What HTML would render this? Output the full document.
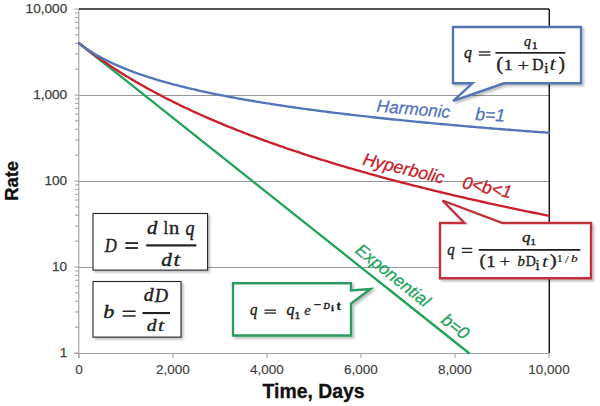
<!DOCTYPE html>
<html><head><meta charset="utf-8"><style>
html,body{margin:0;padding:0;background:#fff;overflow:hidden;}
svg{display:block;}
.sans{font-family:"Liberation Sans",sans-serif;}
</style></head><body>
<svg width="600" height="406" viewBox="0 0 600 406">
<defs>
<filter id="sh" x="-10%" y="-10%" width="130%" height="140%">
<feGaussianBlur in="SourceAlpha" stdDeviation="1.2"/>
<feOffset dx="1.5" dy="1.5" result="o"/>
<feComponentTransfer><feFuncA type="linear" slope="0.25"/></feComponentTransfer>
<feMerge><feMergeNode/><feMergeNode in="SourceGraphic"/></feMerge>
</filter>
</defs>
<rect width="600" height="406" fill="#fff"/>
<g stroke="#969696" stroke-width="1" shape-rendering="crispEdges"><line x1="79" y1="267.00" x2="549" y2="267.00"/>
<line x1="79" y1="181.00" x2="549" y2="181.00"/>
<line x1="79" y1="95.00" x2="549" y2="95.00"/></g>
<g stroke="#a0a0a0" stroke-width="1"><line x1="74.5" y1="353.00" x2="79" y2="353.00"/>
<line x1="75" y1="327.11" x2="79" y2="327.11"/>
<line x1="75" y1="311.97" x2="79" y2="311.97"/>
<line x1="75" y1="301.22" x2="79" y2="301.22"/>
<line x1="75" y1="292.89" x2="79" y2="292.89"/>
<line x1="75" y1="286.08" x2="79" y2="286.08"/>
<line x1="75" y1="280.32" x2="79" y2="280.32"/>
<line x1="75" y1="275.33" x2="79" y2="275.33"/>
<line x1="75" y1="270.94" x2="79" y2="270.94"/>
<line x1="74.5" y1="267.00" x2="79" y2="267.00"/>
<line x1="75" y1="241.11" x2="79" y2="241.11"/>
<line x1="75" y1="225.97" x2="79" y2="225.97"/>
<line x1="75" y1="215.22" x2="79" y2="215.22"/>
<line x1="75" y1="206.89" x2="79" y2="206.89"/>
<line x1="75" y1="200.08" x2="79" y2="200.08"/>
<line x1="75" y1="194.32" x2="79" y2="194.32"/>
<line x1="75" y1="189.33" x2="79" y2="189.33"/>
<line x1="75" y1="184.94" x2="79" y2="184.94"/>
<line x1="74.5" y1="181.00" x2="79" y2="181.00"/>
<line x1="75" y1="155.11" x2="79" y2="155.11"/>
<line x1="75" y1="139.97" x2="79" y2="139.97"/>
<line x1="75" y1="129.22" x2="79" y2="129.22"/>
<line x1="75" y1="120.89" x2="79" y2="120.89"/>
<line x1="75" y1="114.08" x2="79" y2="114.08"/>
<line x1="75" y1="108.32" x2="79" y2="108.32"/>
<line x1="75" y1="103.33" x2="79" y2="103.33"/>
<line x1="75" y1="98.94" x2="79" y2="98.94"/>
<line x1="74.5" y1="95.00" x2="79" y2="95.00"/>
<line x1="75" y1="69.11" x2="79" y2="69.11"/>
<line x1="75" y1="53.97" x2="79" y2="53.97"/>
<line x1="75" y1="43.22" x2="79" y2="43.22"/>
<line x1="75" y1="34.89" x2="79" y2="34.89"/>
<line x1="75" y1="28.08" x2="79" y2="28.08"/>
<line x1="75" y1="22.32" x2="79" y2="22.32"/>
<line x1="75" y1="17.33" x2="79" y2="17.33"/>
<line x1="75" y1="12.94" x2="79" y2="12.94"/>
<line x1="74.5" y1="9.00" x2="79" y2="9.00"/>
<line x1="79.00" y1="353" x2="79.00" y2="358"/>
<line x1="173.00" y1="353" x2="173.00" y2="358"/>
<line x1="267.00" y1="353" x2="267.00" y2="358"/>
<line x1="361.00" y1="353" x2="361.00" y2="358"/>
<line x1="455.00" y1="353" x2="455.00" y2="358"/>
<line x1="549.00" y1="353" x2="549.00" y2="358"/></g>
<line x1="78.8" y1="9" x2="78.8" y2="358" stroke="#a0a0a0" stroke-width="1.1"/>
<line x1="74" y1="353.5" x2="549" y2="353.5" stroke="#a0a0a0" stroke-width="1.1"/>
<line x1="79" y1="9" x2="549" y2="9" stroke="#1a1a1a" stroke-width="1.6"/>
<line x1="549.3" y1="9" x2="549.3" y2="353" stroke="#1a1a1a" stroke-width="1.5"/>
<g fill="none" stroke-width="2.35" stroke-linejoin="round" stroke-linecap="round">
<polyline points="79.00,43.22 98.49,58.71 117.98,74.20 137.47,89.69 156.96,105.18 176.46,120.67 195.95,136.16 215.44,151.64 234.93,167.13 254.42,182.62 273.91,198.11 293.40,213.60 312.89,229.09 332.38,244.58 351.87,260.07 371.37,275.56 390.86,291.04 410.35,306.53 429.84,322.02 449.33,337.51 468.82,353.00" stroke="#22a35a"/>
<polyline points="79.00,43.22 81.35,45.08 83.70,46.90 86.05,48.70 88.40,50.48 90.75,52.23 93.10,53.95 95.45,55.65 97.80,57.33 100.15,58.99 102.50,60.62 104.85,62.24 107.20,63.83 109.55,65.40 111.90,66.95 114.25,68.49 116.60,70.00 118.95,71.50 121.30,72.98 123.65,74.44 126.00,75.89 128.35,77.31 130.70,78.73 133.05,80.12 135.40,81.50 137.75,82.87 140.10,84.22 142.45,85.56 144.80,86.88 147.15,88.19 149.50,89.48 151.85,90.76 154.20,92.03 156.55,93.29 158.90,94.53 161.25,95.76 163.60,96.98 165.95,98.19 168.30,99.38 170.65,100.56 173.00,101.74 175.35,102.90 177.70,104.05 180.05,105.19 182.40,106.32 184.75,107.44 187.10,108.55 189.45,109.65 191.80,110.74 194.15,111.82 196.50,112.89 198.85,113.96 201.20,115.01 203.55,116.05 205.90,117.09 208.25,118.12 210.60,119.14 212.95,120.15 215.30,121.15 217.65,122.15 220.00,123.13 222.35,124.11 224.70,125.08 227.05,126.05 229.40,127.00 231.75,127.95 234.10,128.89 236.45,129.83 238.80,130.76 241.15,131.68 243.50,132.59 245.85,133.50 248.20,134.40 250.55,135.30 252.90,136.18 255.25,137.07 257.60,137.94 259.95,138.81 262.30,139.67 264.65,140.53 267.00,141.38 269.35,142.23 271.70,143.07 274.05,143.90 276.40,144.73 278.75,145.56 281.10,146.38 283.45,147.19 285.80,148.00 288.15,148.80 290.50,149.60 292.85,150.39 295.20,151.17 297.55,151.96 299.90,152.73 302.25,153.51 304.60,154.27 306.95,155.04 309.30,155.80 311.65,156.55 314.00,157.30 316.35,158.04 318.70,158.78 321.05,159.52 323.40,160.25 325.75,160.98 328.10,161.70 330.45,162.42 332.80,163.14 335.15,163.85 337.50,164.55 339.85,165.26 342.20,165.95 344.55,166.65 346.90,167.34 349.25,168.03 351.60,168.71 353.95,169.39 356.30,170.07 358.65,170.74 361.00,171.41 363.35,172.07 365.70,172.73 368.05,173.39 370.40,174.05 372.75,174.70 375.10,175.35 377.45,175.99 379.80,176.63 382.15,177.27 384.50,177.91 386.85,178.54 389.20,179.16 391.55,179.79 393.90,180.41 396.25,181.03 398.60,181.65 400.95,182.26 403.30,182.87 405.65,183.48 408.00,184.08 410.35,184.68 412.70,185.28 415.05,185.87 417.40,186.47 419.75,187.06 422.10,187.64 424.45,188.23 426.80,188.81 429.15,189.39 431.50,189.96 433.85,190.54 436.20,191.11 438.55,191.67 440.90,192.24 443.25,192.80 445.60,193.36 447.95,193.92 450.30,194.48 452.65,195.03 455.00,195.58 457.35,196.13 459.70,196.67 462.05,197.22 464.40,197.76 466.75,198.30 469.10,198.83 471.45,199.37 473.80,199.90 476.15,200.43 478.50,200.95 480.85,201.48 483.20,202.00 485.55,202.52 487.90,203.04 490.25,203.56 492.60,204.07 494.95,204.58 497.30,205.09 499.65,205.60 502.00,206.11 504.35,206.61 506.70,207.11 509.05,207.61 511.40,208.11 513.75,208.61 516.10,209.10 518.45,209.59 520.80,210.08 523.15,210.57 525.50,211.05 527.85,211.54 530.20,212.02 532.55,212.50 534.90,212.98 537.25,213.46 539.60,213.93 541.95,214.40 544.30,214.88 546.65,215.35 549.00,215.81" stroke="#c8212c"/>
<polyline points="79.00,43.22 81.35,45.05 83.70,46.78 86.05,48.44 88.40,50.03 90.75,51.56 93.10,53.02 95.45,54.43 97.80,55.79 100.15,57.10 102.50,58.37 104.85,59.59 107.20,60.78 109.55,61.93 111.90,63.04 114.25,64.12 116.60,65.18 118.95,66.20 121.30,67.20 123.65,68.17 126.00,69.11 128.35,70.03 130.70,70.93 133.05,71.81 135.40,72.67 137.75,73.51 140.10,74.33 142.45,75.13 144.80,75.92 147.15,76.69 149.50,77.45 151.85,78.19 154.20,78.91 156.55,79.62 158.90,80.32 161.25,81.01 163.60,81.68 165.95,82.34 168.30,82.99 170.65,83.63 173.00,84.26 175.35,84.87 177.70,85.48 180.05,86.08 182.40,86.67 184.75,87.24 187.10,87.82 189.45,88.38 191.80,88.93 194.15,89.48 196.50,90.01 198.85,90.54 201.20,91.06 203.55,91.58 205.90,92.09 208.25,92.59 210.60,93.08 212.95,93.57 215.30,94.05 217.65,94.53 220.00,95.00 222.35,95.46 224.70,95.92 227.05,96.37 229.40,96.82 231.75,97.26 234.10,97.70 236.45,98.13 238.80,98.56 241.15,98.98 243.50,99.40 245.85,99.81 248.20,100.22 250.55,100.62 252.90,101.02 255.25,101.42 257.60,101.81 259.95,102.20 262.30,102.58 264.65,102.96 267.00,103.33 269.35,103.71 271.70,104.07 274.05,104.44 276.40,104.80 278.75,105.16 281.10,105.51 283.45,105.86 285.80,106.21 288.15,106.55 290.50,106.89 292.85,107.23 295.20,107.57 297.55,107.90 299.90,108.23 302.25,108.55 304.60,108.88 306.95,109.20 309.30,109.52 311.65,109.83 314.00,110.14 316.35,110.45 318.70,110.76 321.05,111.07 323.40,111.37 325.75,111.67 328.10,111.97 330.45,112.26 332.80,112.55 335.15,112.84 337.50,113.13 339.85,113.42 342.20,113.70 344.55,113.99 346.90,114.27 349.25,114.54 351.60,114.82 353.95,115.09 356.30,115.36 358.65,115.63 361.00,115.90 363.35,116.17 365.70,116.43 368.05,116.69 370.40,116.95 372.75,117.21 375.10,117.47 377.45,117.72 379.80,117.98 382.15,118.23 384.50,118.48 386.85,118.73 389.20,118.97 391.55,119.22 393.90,119.46 396.25,119.70 398.60,119.94 400.95,120.18 403.30,120.42 405.65,120.65 408.00,120.89 410.35,121.12 412.70,121.35 415.05,121.58 417.40,121.81 419.75,122.04 422.10,122.26 424.45,122.49 426.80,122.71 429.15,122.93 431.50,123.15 433.85,123.37 436.20,123.59 438.55,123.81 440.90,124.02 443.25,124.24 445.60,124.45 447.95,124.66 450.30,124.87 452.65,125.08 455.00,125.29 457.35,125.49 459.70,125.70 462.05,125.91 464.40,126.11 466.75,126.31 469.10,126.51 471.45,126.71 473.80,126.91 476.15,127.11 478.50,127.31 480.85,127.50 483.20,127.70 485.55,127.89 487.90,128.09 490.25,128.28 492.60,128.47 494.95,128.66 497.30,128.85 499.65,129.04 502.00,129.22 504.35,129.41 506.70,129.59 509.05,129.78 511.40,129.96 513.75,130.15 516.10,130.33 518.45,130.51 520.80,130.69 523.15,130.87 525.50,131.05 527.85,131.22 530.20,131.40 532.55,131.57 534.90,131.75 537.25,131.92 539.60,132.10 541.95,132.27 544.30,132.44 546.65,132.61 549.00,132.78" stroke="#5375b8"/>
</g>
<g class="sans" font-size="13.6" fill="#404040" stroke="#404040" stroke-width="0.25" text-anchor="end"><text x="67.2" y="13.40">10,000</text>
<text x="67.2" y="99.40">1,000</text>
<text x="67.2" y="185.40">100</text>
<text x="67.2" y="271.40">10</text>
<text x="67.2" y="357.40">1</text></g>
<g class="sans" font-size="13.5" fill="#404040" stroke="#404040" stroke-width="0.15" text-anchor="middle"><text x="79.00" y="374">0</text>
<text x="173.00" y="374">2,000</text>
<text x="267.00" y="374">4,000</text>
<text x="361.00" y="374">6,000</text>
<text x="455.00" y="374">8,000</text>
<text x="549.00" y="374">10,000</text></g>
<text class="sans" font-size="19.4" font-weight="bold" fill="#111" stroke="#111" stroke-width="0.3" x="313.6" y="398.3" text-anchor="middle">Time, Days</text>
<text class="sans" font-size="18.4" font-weight="bold" fill="#111" stroke="#111" stroke-width="0.3" transform="translate(18.3,180.9) rotate(-90)" text-anchor="middle">Rate</text>

<g class="sans" font-style="italic" font-size="17.6" stroke-width="0.3">
<text fill="#5375b8" stroke="#5375b8" font-size="17.2" transform="translate(376.3,111.6) rotate(5)">Harmonic</text>
<text fill="#5375b8" stroke="#5375b8" transform="translate(475,120) rotate(3)">b=1</text>
<text fill="#c8212c" stroke="#c8212c" transform="translate(362,164.5) rotate(13.5)">Hyperbolic</text>
<text fill="#c8212c" stroke="#c8212c" transform="translate(461.5,188) rotate(12)">0&lt;b&lt;1</text>
<text fill="#22a35a" stroke="#22a35a" font-size="17.2" transform="translate(354.2,251.9) rotate(38.5)">Exponential</text>
<text fill="#22a35a" stroke="#22a35a" transform="translate(440,322) rotate(38)">b=0</text>
</g>

<g filter="url(#sh)">
<rect x="93" y="213.5" width="114.6" height="56.6" fill="#fff" stroke="#222" stroke-width="1.1"/>
<rect x="93" y="281.5" width="88" height="55.6" fill="#fff" stroke="#222" stroke-width="1.1"/>
</g>

<g filter="url(#sh)" fill="#fff" stroke-width="2.4" stroke-linejoin="miter">
<path d="M453,27 H581 V83.3 H504 L453.2,100.8 L472.5,83.3 H453 Z" stroke="#5474b2"/>
<path d="M440,223 H464.5 L442.5,200.5 L502.5,223 H591 V278.2 H440 Z" stroke="#c0333a"/>
<path d="M233,283.2 H351 V290.5 L370.5,289 L351,303.5 V335.5 H233 Z" stroke="#2a9c5e"/>
</g>
<g>
<text transform="translate(463.93,57.59) scale(0.78943,0.78938)" font-family="Liberation Serif" font-style="italic" font-weight="normal" font-size="20" fill="#222" stroke="#222" stroke-width="0.5099">q</text>
<rect x="478.90" y="51.30" width="11.50" height="1.30" fill="#222"/><rect x="478.90" y="54.40" width="11.50" height="1.30" fill="#222"/>
<rect x="495.50" y="52.00" width="70.00" height="1.70" fill="#222"/>
<text transform="translate(523.89,45.63) scale(0.69921,0.70898)" font-family="Liberation Serif" font-style="italic" font-weight="normal" font-size="20" fill="#222" stroke="#222" stroke-width="0.5134">q</text>
<text transform="translate(531.75,48.65) scale(0.60592,0.48473)" font-family="Liberation Serif" font-style="normal" font-weight="normal" font-size="20" fill="#222" stroke="#222" stroke-width="0.6602">1</text>
<text transform="translate(496.41,70.32) scale(0.95392,0.89883)" font-family="Liberation Serif" font-style="normal" font-weight="normal" font-size="20" fill="#222" stroke="#222" stroke-width="0.5766">(</text>
<text transform="translate(503.68,69.65) scale(0.89476,0.78012)" font-family="Liberation Serif" font-style="normal" font-weight="normal" font-size="20" fill="#222" stroke="#222" stroke-width="0.4303">1</text>
<text transform="translate(517.42,71.11) scale(1.03152,0.83723)" font-family="Liberation Serif" font-style="normal" font-weight="normal" font-size="20" fill="#222" stroke="#222" stroke-width="0.2884">+</text>
<text transform="translate(532.30,69.62) scale(0.78063,0.78418)" font-family="Liberation Serif" font-style="normal" font-weight="normal" font-size="20" fill="#222" stroke="#222" stroke-width="0.4910">D</text>
<text transform="translate(544.13,72.85) scale(0.75696,0.71740)" font-family="Liberation Serif" font-style="normal" font-weight="normal" font-size="20" fill="#222" stroke="#222" stroke-width="0.5284">i</text>
<text transform="translate(549.57,69.77) scale(1.13487,0.90789)" font-family="Liberation Serif" font-style="italic" font-weight="normal" font-size="20" fill="#222" stroke="#222" stroke-width="0.1322">t</text>
<text transform="translate(558.66,70.32) scale(0.91498,0.89883)" font-family="Liberation Serif" font-style="normal" font-weight="normal" font-size="20" fill="#222" stroke="#222" stroke-width="0.6011">)</text>
<text transform="translate(447.26,254.87) scale(0.74432,0.84054)" font-family="Liberation Serif" font-style="italic" font-weight="normal" font-size="20" fill="#222" stroke="#222" stroke-width="0.5080">q</text>
<rect x="461.80" y="247.80" width="10.50" height="1.30" fill="#222"/><rect x="461.80" y="251.70" width="10.50" height="1.30" fill="#222"/>
<rect x="478.80" y="249.00" width="101.50" height="1.80" fill="#222"/>
<text transform="translate(522.02,242.06) scale(0.84968,0.67974)" font-family="Liberation Serif" font-style="italic" font-weight="normal" font-size="20" fill="#222" stroke="#222" stroke-width="0.5885">q</text>
<text transform="translate(530.25,244.95) scale(0.57751,0.46201)" font-family="Liberation Serif" font-style="normal" font-weight="normal" font-size="20" fill="#222" stroke="#222" stroke-width="0.6926">1</text>
<text transform="translate(479.71,265.96) scale(0.83711,0.86574)" font-family="Liberation Serif" font-style="normal" font-weight="normal" font-size="20" fill="#222" stroke="#222" stroke-width="0.6353">(</text>
<text transform="translate(486.30,266.65) scale(0.93736,0.83314)" font-family="Liberation Serif" font-style="normal" font-weight="normal" font-size="20" fill="#222" stroke="#222" stroke-width="0.4369">1</text>
<text transform="translate(499.84,266.81) scale(0.91333,0.83723)" font-family="Liberation Serif" font-style="normal" font-weight="normal" font-size="20" fill="#222" stroke="#222" stroke-width="0.3257">+</text>
<text transform="translate(517.60,266.21) scale(0.73968,0.71062)" font-family="Liberation Serif" font-style="italic" font-weight="normal" font-size="20" fill="#222" stroke="#222" stroke-width="0.5063">b</text>
<text transform="translate(525.75,266.32) scale(0.69644,0.70804)" font-family="Liberation Serif" font-style="normal" font-weight="normal" font-size="20" fill="#222" stroke="#222" stroke-width="0.4943">D</text>
<text transform="translate(535.54,269.65) scale(0.73593,0.74006)" font-family="Liberation Serif" font-style="normal" font-weight="normal" font-size="20" fill="#222" stroke="#222" stroke-width="0.5405">i</text>
<text transform="translate(542.01,266.78) scale(1.08031,0.86425)" font-family="Liberation Serif" font-style="italic" font-weight="normal" font-size="20" fill="#222" stroke="#222" stroke-width="0.1388">t</text>
<text transform="translate(550.11,266.22) scale(0.99285,0.80508)" font-family="Liberation Serif" font-style="normal" font-weight="normal" font-size="20" fill="#222" stroke="#222" stroke-width="0.5394">)</text>
<text transform="translate(557.08,262.35) scale(0.55390,0.46959)" font-family="Liberation Serif" font-style="normal" font-weight="normal" font-size="20" fill="#222" stroke="#222" stroke-width="0.4513">1</text>
<text transform="translate(564.91,262.54) scale(0.68204,0.54564)" font-family="Liberation Serif" font-style="normal" font-weight="normal" font-size="20" fill="#222" stroke="#222" stroke-width="0.2199">/</text>
<text transform="translate(571.02,262.25) scale(0.66620,0.53296)" font-family="Liberation Serif" font-style="italic" font-weight="normal" font-size="20" fill="#222" stroke="#222" stroke-width="0.3753">b</text>
<text transform="translate(249.96,314.98) scale(0.74432,0.86247)" font-family="Liberation Serif" font-style="italic" font-weight="normal" font-size="20" fill="#222" stroke="#222" stroke-width="0.5073">q</text>
<rect x="264.50" y="309.50" width="11.50" height="1.30" fill="#222"/><rect x="264.50" y="312.40" width="11.50" height="1.30" fill="#222"/>
<text transform="translate(286.42,314.98) scale(0.80070,0.86247)" font-family="Liberation Serif" font-style="italic" font-weight="normal" font-size="20" fill="#222" stroke="#222" stroke-width="0.5073">q</text>
<text transform="translate(294.43,318.65) scale(0.58230,0.51503)" font-family="Liberation Serif" font-style="normal" font-weight="normal" font-size="20" fill="#222" stroke="#222" stroke-width="0.8587">1</text>
<text transform="translate(304.20,314.91) scale(0.72960,0.70692)" font-family="Liberation Serif" font-style="italic" font-weight="normal" font-size="20" fill="#222" stroke="#222" stroke-width="0.3598">e</text>
<rect x="314.20" y="304.00" width="6.60" height="1.20" fill="#222"/>
<text transform="translate(323.45,309.23) scale(0.43160,0.45680)" font-family="Liberation Serif" font-style="italic" font-weight="normal" font-size="20" fill="#222" stroke="#222" stroke-width="1.0946">D</text>
<text transform="translate(331.02,311.35) scale(0.51822,0.43237)" font-family="Liberation Serif" font-style="normal" font-weight="bold" font-size="20" fill="#222" stroke="#222" stroke-width="0.5789">i</text>
<text transform="translate(336.49,309.53) scale(0.65600,0.59362)" font-family="Liberation Serif" font-style="normal" font-weight="bold" font-size="20" fill="#222" stroke="#222" stroke-width="0.4573">t</text>
<text transform="translate(104.64,251.61) scale(0.83535,0.98974)" font-family="Liberation Serif" font-style="italic" font-weight="normal" font-size="20" fill="#222" stroke="#222" stroke-width="0.4845">D</text>
<rect x="125.30" y="242.20" width="12.70" height="1.80" fill="#222"/><rect x="125.30" y="247.10" width="12.70" height="1.80" fill="#222"/>
<text transform="translate(147.12,234.06) scale(1.03777,0.91606)" font-family="Liberation Serif" font-style="italic" font-weight="normal" font-size="20" fill="#222" stroke="#222" stroke-width="0.4587">d</text>
<text transform="translate(163.72,234.45) scale(0.76674,0.95842)" font-family="Liberation Serif" font-style="normal" font-weight="normal" font-size="20" fill="#222" stroke="#222" stroke-width="0.5113">l</text>
<text transform="translate(168.98,234.45) scale(1.02833,0.94441)" font-family="Liberation Serif" font-style="normal" font-weight="normal" font-size="20" fill="#222" stroke="#222" stroke-width="0.3267">n</text>
<text transform="translate(185.56,235.06) scale(0.89093,1.00865)" font-family="Liberation Serif" font-style="italic" font-weight="normal" font-size="20" fill="#222" stroke="#222" stroke-width="0.5031">q</text>
<rect x="146.20" y="244.30" width="50.10" height="2.20" fill="#222"/>
<text transform="translate(161.21,265.65) scale(1.05895,0.95867)" font-family="Liberation Serif" font-style="italic" font-weight="normal" font-size="20" fill="#222" stroke="#222" stroke-width="0.4693">d</text>
<text transform="translate(173.53,265.66) scale(1.16185,0.95154)" font-family="Liberation Serif" font-style="italic" font-weight="normal" font-size="20" fill="#222" stroke="#222" stroke-width="0.3494">t</text>
<text transform="translate(103.13,317.96) scale(1.10953,0.95933)" font-family="Liberation Serif" font-style="italic" font-weight="normal" font-size="20" fill="#222" stroke="#222" stroke-width="0.4479">b</text>
<rect x="122.70" y="310.50" width="12.90" height="1.50" fill="#222"/><rect x="122.70" y="315.20" width="12.90" height="1.50" fill="#222"/>
<text transform="translate(143.65,301.47) scale(0.98482,0.90186)" font-family="Liberation Serif" font-style="italic" font-weight="normal" font-size="20" fill="#222" stroke="#222" stroke-width="0.4762">d</text>
<text transform="translate(154.66,301.61) scale(0.91889,0.92122)" font-family="Liberation Serif" font-style="italic" font-weight="normal" font-size="20" fill="#222" stroke="#222" stroke-width="0.4863">D</text>
<rect x="142.50" y="312.00" width="27.50" height="2.10" fill="#222"/>
<text transform="translate(146.85,330.87) scale(0.98482,0.87345)" font-family="Liberation Serif" font-style="italic" font-weight="normal" font-size="20" fill="#222" stroke="#222" stroke-width="0.4620">d</text>
<text transform="translate(158.09,330.88) scale(1.06939,0.85552)" font-family="Liberation Serif" font-style="italic" font-weight="normal" font-size="20" fill="#222" stroke="#222" stroke-width="0.3437">t</text>
</g>
</svg>
</body></html>
